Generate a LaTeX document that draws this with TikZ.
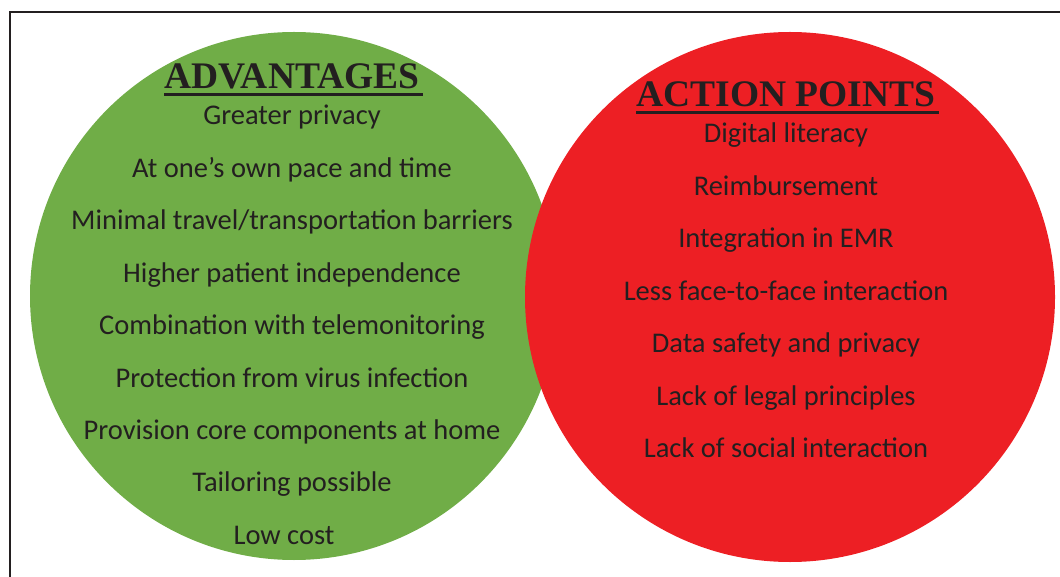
\documentclass[tikz,border=0pt]{standalone}
\usepackage{fontspec}
\setmainfont{Carlito}
\newfontfamily\headfont{Liberation Serif}
\usetikzlibrary{positioning}
\definecolor{advgreen}{HTML}{70AD47}
\definecolor{actred}{HTML}{ED1F24}
\definecolor{inkgray}{HTML}{231F20}

\begin{document}
\begin{tikzpicture}
	[
	x=1pt,y=-1pt,
	set/.style={circle,draw=none,inner sep=0pt},
	head/.style={inner sep=0pt,anchor=base,text=inkgray,font=\headfont\bfseries\fontsize{37.5}{37.5}\selectfont},
	item/.style={inner sep=0pt,anchor=base,text=inkgray,font=\fontsize{28.5}{28.5}\selectfont},
	underline/.style={inkgray,line width=3pt},
	]
		\useasboundingbox (0,0) rectangle (1060,577);

		% frame
		\draw[inkgray,line width=2.5pt] (10,600) -- (10,12) -- (1075,12);

		% sets
		\node[set,fill=advgreen,minimum size=528pt] (adv) at (294,296) {};
		\node[set,fill=actred,minimum size=530pt] (act) at (790,297) {};

		% headings
		\node[head] (advhead) at (292,89) {ADVANTAGES};
		\node[head] (acthead) at (786,107) {ACTION POINTS};
		\draw[underline] ([yshift=-6pt]advhead.base west) -- ([yshift=-6pt,xshift=3pt]advhead.base east);
		\draw[underline] ([yshift=-6pt]acthead.base west) -- ([yshift=-6pt,xshift=3pt]acthead.base east);

		% advantages
		\foreach \txt [count=\i] in {Greater privacy,At one’s own pace and time,Minimal travel/transportation barriers,Higher patient independence,Combination with telemonitoring,Protection from virus infection,Provision core components at home,Tailoring possible}
			\node[item] (g\i) at (292,{125+52.4*(\i-1)}) {\txt};
		\node[item] (g9) at (284,544) {Low cost};

		% action points
		\foreach \txt [count=\i] in {Digital literacy,Reimbursement,Integration in EMR,Less face-to-face interaction,Data safety and privacy,Lack of legal principles,Lack of social interaction}
			\node[item] (r\i) at (786,{143+52.4*(\i-1)}) {\txt};

	\end{tikzpicture}
\end{document}
